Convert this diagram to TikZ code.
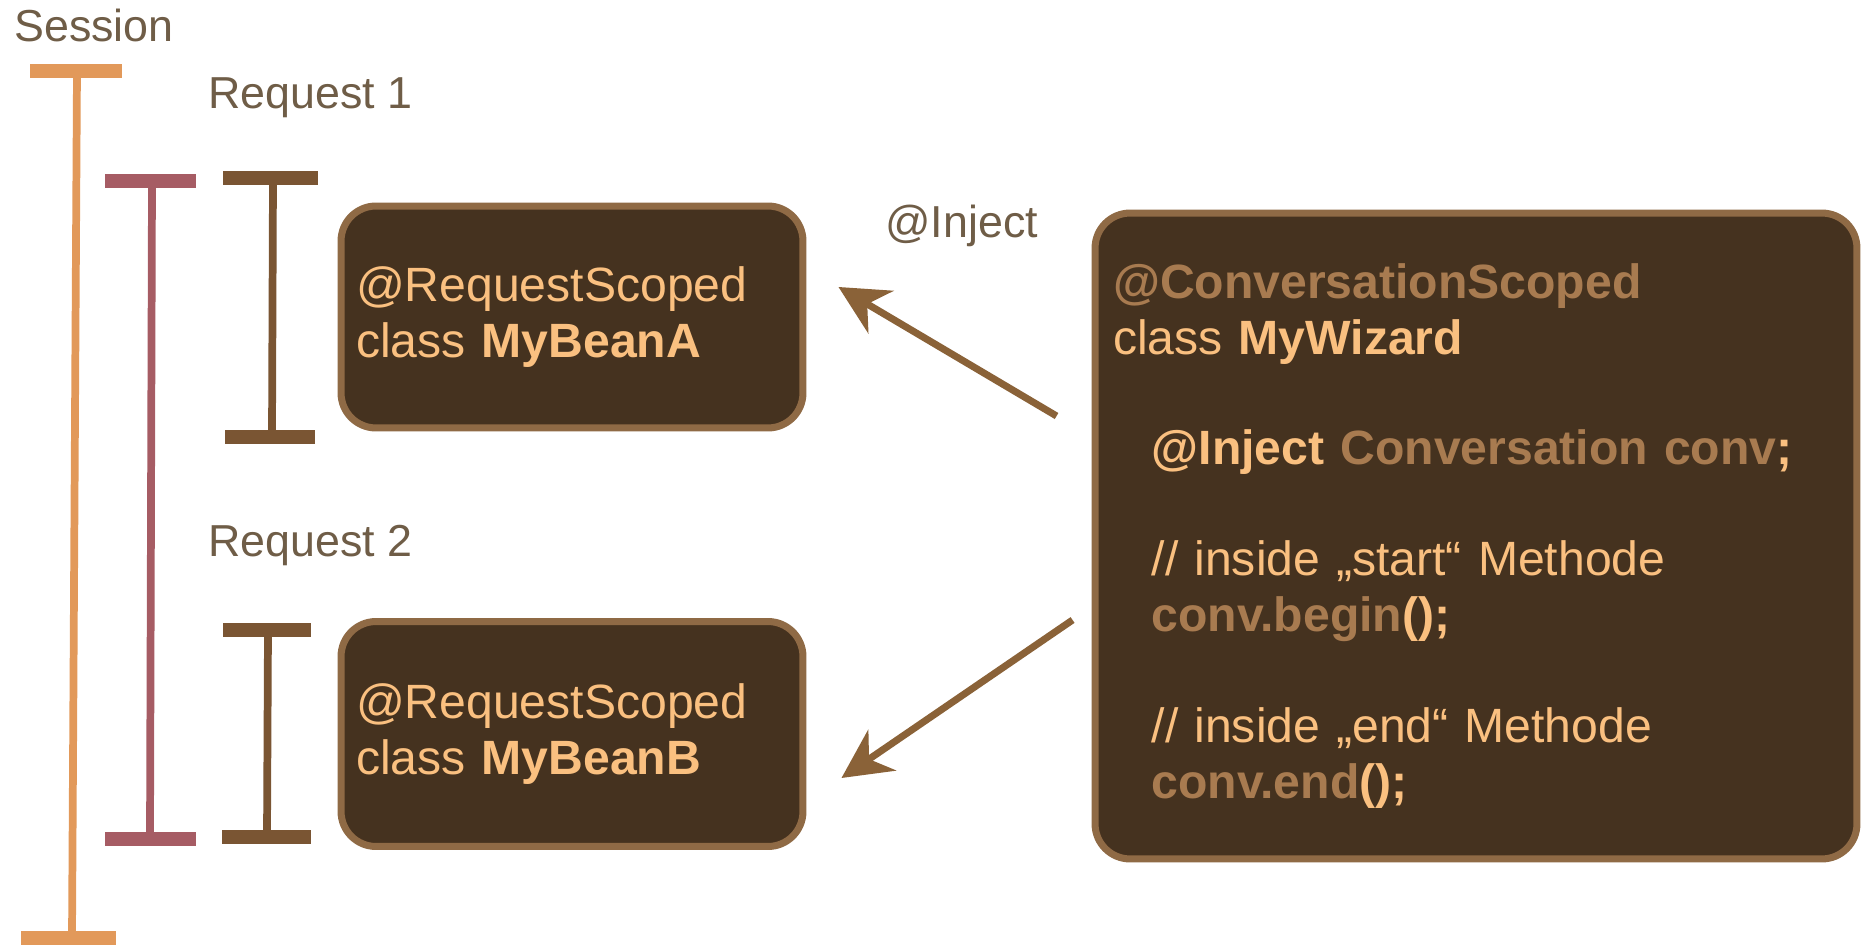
\documentclass[tikz,border=0pt]{standalone}
\usepackage{fontspec}
\setmainfont{Liberation Sans}
\usepackage{tikz}
\usetikzlibrary{arrows.meta}
\definecolor{sessioncolor}{HTML}{E2995A}
\definecolor{requestcolor}{HTML}{A65C64}
\definecolor{beanbarcolor}{HTML}{7A5533}
\definecolor{beanfill}{HTML}{45321F}
\definecolor{beanborder}{HTML}{8F6A45}
\definecolor{codelight}{HTML}{FAC080}
\definecolor{codemuted}{HTML}{A87B50}
\definecolor{lblcolor}{HTML}{6F5D47}
\definecolor{arrowcolor}{HTML}{8A6238}
\newcommand{\barthick}{4.4pt}
\newcommand{\capthick}{7.5pt}
\newcommand{\codeindent}{\hspace*{22pt}}

\begin{document}
\begin{tikzpicture}[x=0.02cm,y=-0.02cm]
\tikzset{
  bean/.style={draw=beanborder, fill=beanfill, line width=4pt, rounded corners=0.7cm,
    text=codelight, align=left, inner sep=0pt, font=\fontsize{27.4pt}{32pt}\selectfont},
  lbl/.style={text=lblcolor, anchor=base west, inner sep=0pt, font=\fontsize{25.5pt}{30pt}\selectfont},
  inject/.style={draw=arrowcolor, line width=4pt, -{Stealth[length=28pt,width=28pt,inset=9pt]}}
}
\useasboundingbox (0,0) rectangle (1863,945);
\node[lbl] (sessionlbl) at (14,42) {Session};
\node[lbl] (req1lbl) at (208,109) {Request 1};
\node[lbl] (req2lbl) at (208,557) {Request 2};
\node[lbl] (injectlbl) at (885,238) {@Inject};
%session
\draw[sessioncolor, line width=\capthick] (30,71) -- (122,71);
\draw[sessioncolor, line width=\barthick] (77,71) -- (72,938);
\draw[sessioncolor, line width=\capthick] (21,938) -- (116,938);
%request
\draw[requestcolor, line width=\capthick] (105,181) -- (196,181);
\draw[requestcolor, line width=\barthick] (152,181) -- (150,839);
\draw[requestcolor, line width=\capthick] (105,839) -- (196,839);
%request 1
\draw[beanbarcolor, line width=\capthick] (223,178) -- (318,178);
\draw[beanbarcolor, line width=\barthick] (273,178) -- (272,437);
\draw[beanbarcolor, line width=\capthick] (225,437) -- (315,437);
%request 2
\draw[beanbarcolor, line width=\capthick] (223,630) -- (311,630);
\draw[beanbarcolor, line width=\barthick] (268,630) -- (267,837);
\draw[beanbarcolor, line width=\capthick] (222,837) -- (311,837);
%beans
\node[bean, minimum width=9.24cm, minimum height=4.44cm, text width=8.64cm] (beanA) at (572,317)
  {@RequestScoped\\class \textbf{MyBeanA}};
\node[bean, minimum width=9.24cm, minimum height=4.5cm, text width=8.64cm] (beanB) at (572,734)
  {@RequestScoped\\class \textbf{MyBeanB}};
\node[bean, minimum width=15.24cm, minimum height=12.92cm, text width=14.52cm] (wizard) at (1476,536) {%
  {\color{codemuted}\bfseries @ConversationScoped}\\
  class \textbf{MyWizard}\\[31pt]
  \codeindent\textbf{@Inject} {\color{codemuted}\bfseries Conversation conv}\textbf{;}\\[31pt]
  \codeindent// inside „start“ Methode\\
  \codeindent{\color{codemuted}\bfseries conv.begin}\textbf{();}\\[31pt]
  \codeindent// inside „end“ Methode\\
  \codeindent{\color{codemuted}\bfseries conv.end}\textbf{();}};
%injection
\draw[inject] ([shift={(-35,-120)}]wizard.west) -- ([shift={(32,-30)}]beanA.east);
\draw[inject] ([shift={(-19,84)}]wizard.west) -- ([shift={(35,44)}]beanB.east);
\end{tikzpicture}
\end{document}
